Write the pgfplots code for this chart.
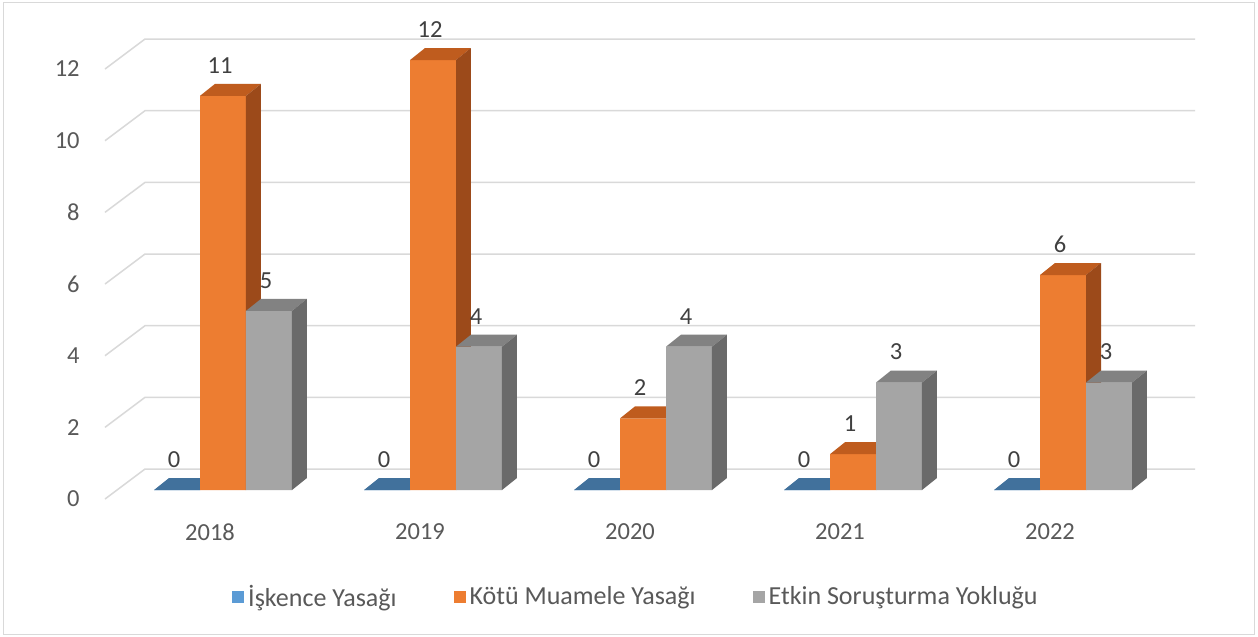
\documentclass[border=0pt]{standalone}
\usepackage{pgfplots}
\pgfplotsset{compat=1.18}
\usepackage{pgfplotstable}
\usepackage{fontspec}
\setmainfont{Carlito}

\definecolor{isk}{HTML}{5B9BD5}
\definecolor{isktop}{HTML}{41719C}
\definecolor{kot}{HTML}{ED7D31}
\definecolor{kottop}{HTML}{BF5C1E}
\definecolor{kotside}{HTML}{9C4A1A}
\definecolor{etk}{HTML}{A5A5A5}
\definecolor{etktop}{HTML}{828282}
\definecolor{etkside}{HTML}{6A6A6A}
\definecolor{gridc}{HTML}{D9D9D9}
\definecolor{txt}{HTML}{595959}
\definecolor{lbl}{HTML}{404040}

\newcommand\chartfont{\fontsize{12.25pt}{14pt}\selectfont}
\newcommand\legfont{\fontsize{13pt}{15pt}\selectfont}

% one row per year
\pgfplotstableread{
x isk kotu etkin
0 0   11   5
1 0   12   4
2 0   2    4
3 0   1    3
4 0   6    3
}\data

\newcommand\bw{0.219}     % bar width, axis units
\newcommand\bardx{0.0714} % depth, x
\newcommand\bardy{0.335}  % depth, y

\pgfplotsset{
  sqlegend/.style={legend image code/.code={\fill[##1] (0pt,-3pt) rectangle (6pt,3pt);}},
  vals/.style={nodes near coords,
    every node near coord/.append style={font=\chartfont, text=lbl, inner sep=0pt, yshift=11pt, xshift=#1}},
}

% top face of every bar in a column
\newcommand\topfaces[3]{%
  \pgfplotsinvokeforeach{0,...,4}{%
    \pgfplotstablegetelem{##1}{#1}\of\data
    \pgfmathsetmacro\hh{\pgfplotsretval}%
    \pgfmathsetmacro\htop{\pgfplotsretval+\bardy}%
    \pgfmathsetmacro\xl{##1+(#2)-\bw/2}%
    \pgfmathsetmacro\xr{##1+(#2)+\bw/2}%
    \pgfmathsetmacro\xL{\xl+\bardx}%
    \pgfmathsetmacro\xR{\xr+\bardx}%
    \edef\tmp{\noexpand\addplot[forget plot,draw=none,fill=#3] coordinates {(\xl,\hh) (\xr,\hh) (\xR,\htop) (\xL,\htop)};}\tmp
  }}
% right side face
\newcommand\sidefaces[3]{%
  \pgfplotsinvokeforeach{0,...,4}{%
    \pgfplotstablegetelem{##1}{#1}\of\data
    \pgfmathsetmacro\hh{\pgfplotsretval}%
    \pgfmathsetmacro\htop{\pgfplotsretval+\bardy}%
    \pgfmathsetmacro\xr{##1+(#2)+\bw/2}%
    \pgfmathsetmacro\xR{\xr+\bardx}%
    \edef\tmp{\noexpand\addplot[forget plot,draw=none,fill=#3] coordinates {(\xr,0) (\xr,\hh) (\xR,\htop) (\xR,\bardy)};}\tmp
  }}

\begin{document}
\begin{tikzpicture}
\useasboundingbox (0,0) rectangle (629pt,-318.5pt);
\fill[white] (0,0) rectangle (629pt,-318.5pt);
\draw[gridc, line width=0.75pt] (1.75pt,-1.25pt) rectangle (627.25pt,-317.25pt);
\begin{axis}[
    at={(52.5pt,-249.5pt)}, anchor=south west,
    x=105pt, y=17.915pt,
    xmin=-0.5619, xmax=4.6286,
    ymin=-0.251, ymax=12.6,
    clip=false,
    axis line style={draw=none},
    tick style={draw=none},
    /pgf/number format/assume math mode=true,
    xtick={0,...,4},
    xticklabels={2018,2019,2020,2021,2022},
    xticklabel style={font=\chartfont, text=txt, anchor=center, yshift=-16.5pt, xshift=-6.5pt},
    ytick={-0.251,1.749,3.749,5.749,7.749,9.749,11.749},
    yticklabels={0,2,4,6,8,10,12},
    yticklabel style={font=\chartfont, text=txt, anchor=east, inner sep=0pt, xshift=-12.5pt},
    legend columns=3,
    legend style={at={(0.488,-0.213)}, anchor=center, draw=none, fill=none,
      font=\legfont, text=txt,
      /tikz/every even column/.append style={column sep=26.5pt}},
  ]

  % back wall gridlines
  \pgfplotsinvokeforeach{0,2,...,12}{%
    \pgfmathsetmacro\ya{#1-0.251}%
    \pgfmathsetmacro\yb{#1+0.586}%
    \edef\tmp{\noexpand\draw[gridc, line width=0.75pt] (axis cs:-0.5619,\ya) -- (axis cs:-0.3714,\yb) -- (axis cs:4.6286,\yb);}\tmp
  }

  \addplot[ybar, sqlegend, vals=-24.5pt, bar width=\bw, bar shift=-\bw, fill=isk, draw=none]
    table[x=x, y=isk] {\data};
  \topfaces{isk}{-\bw}{isktop}

  \addplot[ybar, sqlegend, vals=-1.5pt, bar width=\bw, bar shift=0, fill=kot, draw=none]
    table[x=x, y=kotu] {\data};
  \topfaces{kotu}{0}{kottop}
  \sidefaces{kotu}{0}{kotside}

  \addplot[ybar, sqlegend, vals=21.5pt, bar width=\bw, bar shift=\bw, fill=etk, draw=none]
    table[x=x, y=etkin] {\data};
  \topfaces{etkin}{\bw}{etktop}
  \sidefaces{etkin}{\bw}{etkside}

  \legend{İşkence Yasağı, Kötü Muamele Yasağı, Etkin Soruşturma Yokluğu}
\end{axis}
\end{tikzpicture}
\end{document}
